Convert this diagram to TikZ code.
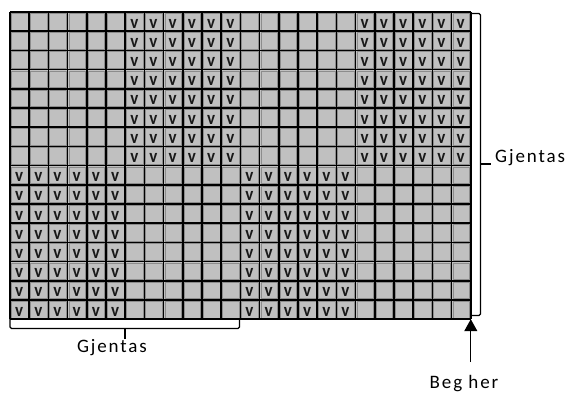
\documentclass[tikz,border=0pt]{standalone}
\usepackage{fontspec}
\setmainfont{Carlito}
\newfontfamily\labelfont[LetterSpace=10]{Carlito}
\usetikzlibrary{arrows.meta}
\definecolor{cellgray}{HTML}{C0C0C0}
\definecolor{celledge}{HTML}{8C8C8C}
\tikzset{
  gridline/.style={line width=1.6pt, black},
  cellbox/.style={draw=celledge, line width=0.6pt},
  vmark/.style={inner sep=0pt, text=black!90, yscale=1.1, font=\bfseries\fontsize{17}{17}\selectfont},
  bracketline/.style={line width=1.2pt, rounded corners=1.5pt},
  lbl/.style={inner sep=0pt, font=\labelfont\fontsize{19}{19}\selectfont},
}
\begin{document}
\begin{tikzpicture}[x=1pt,y=-1pt]
\useasboundingbox (0,0) rectangle (572,394);
\def\cs{19.2}
\fill[cellgray] (10,12) rectangle (470.8,319.2);
% inner cell edges
\foreach \i in {0,...,23}{
  \foreach \j in {0,...,15}{
    \draw[cellbox] ({10+\i*\cs+1.3},{12+\j*\cs+1.3}) rectangle ({10+(\i+1)*\cs-1.3},{12+(\j+1)*\cs-1.3});
  }
}
% v marks: top half cols 7-12, 19-24; bottom half cols 1-6, 13-18
\foreach \j in {0,...,7}{
  \foreach \i in {6,...,11,18,19,20,21,22,23}{
    \node[vmark] (v-\i-\j) at ({10+\i*\cs+\cs/2-0.5},{12+\j*\cs+\cs/2+2}) {v};
  }
}
\foreach \j in {8,...,15}{
  \foreach \i in {0,...,5,12,13,14,15,16,17}{
    \node[vmark] (v-\i-\j) at ({10+\i*\cs+\cs/2-0.5},{12+\j*\cs+\cs/2+2}) {v};
  }
}
% black grid
\foreach \i in {0,...,24}{
  \draw[gridline] ({10+\i*\cs},12) -- ({10+\i*\cs},319.2);
}
\foreach \j in {0,...,16}{
  \draw[gridline] (10,{12+\j*\cs}) -- (470.8,{12+\j*\cs});
}
% right bracket
\draw[bracketline] (472,13.5) -- (480.5,13.5) -- (480.5,315.5) -- (471.5,315.5);
\draw[line width=1.2pt] (480.5,164) -- (491,164);
\node[lbl, anchor=west] (gr) at (495,158) {Gjentas};
% bottom bracket
\draw[bracketline] (10,319) -- (10,328.5) -- (239.5,328.5) -- (239.5,319);
\draw[line width=1.2pt] (125,328.5) -- (125,339);
\node[lbl] (gb) at (112,348) {Gjentas};
% start arrow
\coordinate (corner) at (470.8,319.2);
\coordinate (astart) at (470.8,362);
\draw[line width=1.2pt, -{Triangle[width=13pt,length=12pt]}] (astart) -- (corner);
\node[lbl] (beg) at (464,384) {Beg her};
\end{tikzpicture}
\end{document}
